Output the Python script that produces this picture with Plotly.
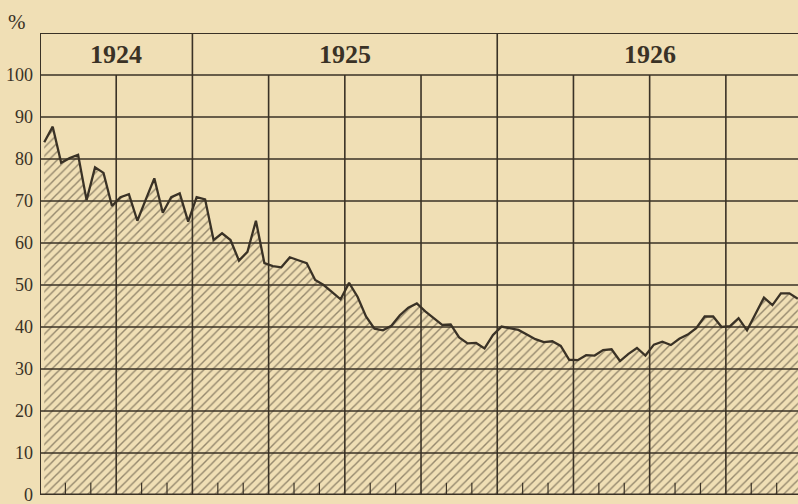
import plotly.graph_objects as go

# Share (%), one value per ten-day period (dekad), Jul 1924 - Dec 1926
values = [
    84.0, 87.7, 79.1, 80.2, 81.0, 70.2, 78.0, 76.7, 68.8,   # Q3 1924
    70.9, 71.6, 65.3, 70.4, 75.4, 67.2, 70.9, 71.8, 65.1,   # Q4 1924
    70.9, 70.4, 60.7, 62.3, 60.7, 55.8, 57.9, 65.3, 55.2,   # Q1 1925
    54.5, 54.2, 56.6, 55.9, 55.2, 51.2, 50.0, 48.3, 46.6,   # Q2 1925
    50.5, 47.2, 42.5, 39.6, 39.2, 40.3, 42.8, 44.6, 45.6,   # Q3 1925
    43.7, 42.1, 40.5, 40.6, 37.5, 36.1, 36.2, 34.9, 38.1,   # Q4 1925
    40.1, 39.7, 39.3, 38.2, 37.1, 36.4, 36.6, 35.5, 32.2,   # Q1 1926
    32.1, 33.3, 33.2, 34.5, 34.7, 31.9, 33.6, 35.0, 33.2,   # Q2 1926
    35.8, 36.5, 35.7, 37.2, 38.2, 39.7, 42.5, 42.5, 40.0,   # Q3 1926
    40.2, 42.1, 39.2, 43.0, 47.0, 45.2, 48.0, 48.0, 46.7,   # Q4 1926
]
years = ["1924", "1925", "1926"]
year_start_month = [0, 6, 18]      # months since 1 Jul 1924
year_end_month = [6, 18, 30]
y_ticks = [0, 10, 20, 30, 40, 50, 60, 70, 80, 90, 100]

x = [(i + 0.5) / 3 for i in range(len(values))]

INK = "#3a3226"
PAPER = "#f0dfb5"
X_MAX = 29.84
HEADER_TOP = 110

fig = go.Figure()
fig.add_trace(go.Scatter(
    x=x, y=values, mode="lines",
    line=dict(color=INK, width=2.3),
    fill="tozeroy",
    fillcolor="rgba(0,0,0,0)",
    fillpattern=dict(shape="/", fgcolor=INK, bgcolor="rgba(0,0,0,0)",
                     size=6, solidity=0.24),
    hoverinfo="skip", showlegend=False,
))

shapes = []
# horizontal grid lines
for v in y_ticks:
    shapes.append(dict(type="line", xref="x", yref="y", x0=0, x1=X_MAX, y0=v, y1=v,
                       line=dict(color=INK, width=3 if v == 0 else 1.6), layer="above"))
# header top
shapes.append(dict(type="line", xref="x", yref="y", x0=0, x1=X_MAX, y0=HEADER_TOP, y1=HEADER_TOP,
                   line=dict(color=INK, width=1.8), layer="above"))
# quarter lines
for m in range(0, 31, 3):
    if m in year_start_month or m >= X_MAX:
        continue
    shapes.append(dict(type="line", xref="x", yref="y", x0=m, x1=m, y0=0, y1=100,
                       line=dict(color=INK, width=1.6), layer="above"))
# year boundaries through the header
for m in year_start_month:
    shapes.append(dict(type="line", xref="x", yref="y", x0=m, x1=m, y0=0, y1=HEADER_TOP,
                       line=dict(color=INK, width=2 if m == 0 else 1.6), layer="above"))
# month ticks
for m in range(1, 30):
    if m % 3 == 0:
        continue
    shapes.append(dict(type="line", xref="x", yref="y", x0=m, x1=m, y0=0, y1=2.9,
                       line=dict(color=INK, width=1.2), layer="above"))

annotations = []
for yr, a, b in zip(years, year_start_month, year_end_month):
    annotations.append(dict(x=(a + b) / 2, y=105, xref="x", yref="y", text="<b>%s</b>" % yr,
                            showarrow=False, font=dict(family="Liberation Serif", size=26, color=INK),
                            xanchor="center", yanchor="middle"))
annotations.append(dict(x=-23 / 758, y=(495 - 22) / 462, xref="paper", yref="paper", text="%",
                        showarrow=False, font=dict(family="Liberation Serif", size=21, color=INK),
                        xanchor="center", yanchor="middle"))

fig.update_layout(
    width=798, height=504,
    margin=dict(l=40, r=0, t=33, b=9),
    paper_bgcolor=PAPER, plot_bgcolor=PAPER,
    shapes=shapes, annotations=annotations,
    xaxis=dict(range=[0, X_MAX], showgrid=False, zeroline=False, showticklabels=False,
               ticks="", showline=False, fixedrange=True, automargin=False),
    yaxis=dict(range=[0, HEADER_TOP], showgrid=False, zeroline=False, tickvals=y_ticks,
               ticktext=[str(v) for v in y_ticks], ticks="", showline=False,
               tickfont=dict(family="Liberation Serif", size=18, color=INK),
               ticklabelstandoff=6, ticklabeloverflow="allow",
               fixedrange=True, automargin=False),
)

fig.write_html(
    "out.html",
    config={"displayModeBar": False},
    post_script="document.body.style.margin='0';document.body.style.overflow='hidden';"
                "document.body.style.background='%s';" % PAPER,
)
